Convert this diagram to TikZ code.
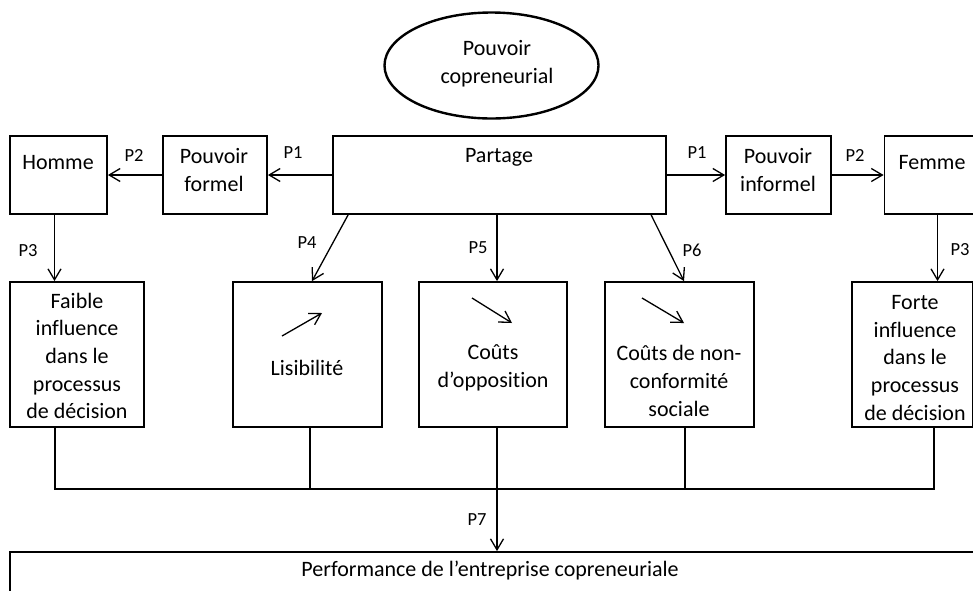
\documentclass[tikz,border=0pt]{standalone}
\usepackage{fontspec}
\setmainfont{Carlito}[Ligatures=NoCommon]
\usetikzlibrary{arrows.meta,shapes.geometric,calc}
\begin{document}
\begin{tikzpicture}[x=1pt,y=-1pt,
  box/.style={draw, line width=1.8pt, inner sep=0pt},
  txt/.style={inner sep=0pt, align=center, font=\fontsize{22}{27.7}\selectfont},
  lbl/.style={inner sep=0pt, font=\fontsize{18.5}{22}\selectfont},
  ln/.style={line width=1.3pt},
  arr/.style={line width=1.3pt, -{Straight Barb[length=11pt,width=13pt,line width=1.3pt]}}]
\useasboundingbox (0,0) rectangle (973,590);
\clip (0,0) rectangle (973,590);
\fill[white] (0,0) rectangle (973,590);

% ellipse
\node[ellipse, draw, line width=2.4pt, minimum width=214pt, minimum height=106pt, inner sep=0pt] (pc) at (491.5,65.5) {};
\node[txt] (pct) at (497,64) {Pouvoir\\copreneurial};

% top row boxes
\node[box, minimum width=97pt, minimum height=78pt] (homme) at (58.5,175) {};
\node[box, minimum width=104pt, minimum height=78pt] (pformel) at (215,175) {};
\node[box, minimum width=333pt, minimum height=78pt] (partage) at (499.5,175) {};
\node[box, minimum width=105pt, minimum height=78pt] (pinformel) at (778.5,175) {};
\node[box, minimum width=90pt, minimum height=78pt] (femme) at (929.5,175) {};

\node[txt] (hommet) at (58,163) {Homme};
\node[txt] (pformelt) at (214,170) {Pouvoir\\formel};
\node[txt] (partaget) at (499,157) {Partage};
\node[txt] (pinformelt) at (778,170) {Pouvoir\\informel};
\node[txt] (femmet) at (932,163) {Femme};

% middle row boxes
\node[box, minimum width=134pt, minimum height=145pt] (faible) at (77,354.5) {};
\node[box, minimum width=149pt, minimum height=145pt] (lisib) at (307.5,354.5) {};
\node[box, minimum width=148pt, minimum height=145pt] (couts) at (493,354.5) {};
\node[box, minimum width=149pt, minimum height=145pt] (nonconf) at (679.5,354.5) {};
\node[box, minimum width=121pt, minimum height=145pt] (forte) at (912.5,354.5) {};

\node[txt] (faiblet) at (77,356) {Faible\\influence\\dans le\\processus\\de décision};
\node[txt] (lisibt) at (307,368) {Lisibilité};
\node[txt] (coutst) at (493,368) {Coûts\\d’opposition};
\node[txt] (nonconft) at (679,381) {Coûts de non-\\conformité\\sociale};
\node[txt] (fortet) at (915,358) {Forte\\influence\\dans le\\processus\\de décision};

% bottom box
\node[box, minimum width=990pt, minimum height=80pt] (perf) at (505,592) {};
\node[txt] (perft) at (490,571) {Performance de l’entreprise copreneuriale};

% junction coordinates
\coordinate (jL) at (55,489);
\coordinate (j1) at (310,489);
\coordinate (jc) at (497,489);
\coordinate (j3) at (685,489);
\coordinate (jR) at (934,489);
\coordinate (aL) at (54.5,250);
\coordinate (aR) at (937.5,250);

% top arrows
\draw[arr] (partage.west) -- (pformel.east);
\draw[arr] (pformel.west) -- (homme.east);
\draw[arr] (partage.east) -- (pinformel.west);
\draw[arr] (pinformel.east) -- (femme.west);
\draw[arr] (homme.south -| aL) -- (faible.north -| aL);
\draw[arr] (femme.south -| aR) -- (forte.north -| aR);

% partage to middle
\draw[arr] ([xshift=16pt]partage.south west) -- ([xshift=4.5pt]lisib.north);
\draw[arr] (partage.south -| jc) -- (couts.north -| jc);
\draw[arr] ([xshift=319pt]partage.south west) -- ([xshift=4.5pt]nonconf.north);

% small trend arrows
\draw[arr] ($(lisib.center)+(-25.5,-18.5)$) -- ($(lisib.center)+(14.5,-41.5)$);
\draw[arr] ($(couts.center)+(-21,-56.5)$) -- ($(couts.center)+(19,-31.5)$);
\draw[arr] ($(nonconf.center)+(-37.5,-56.5)$) -- ($(nonconf.center)+(4.5,-31.5)$);

% bottom connectors
\draw[ln] (faible.south -| jL) -- (jL) -- (jR) -- (forte.south -| jR);
\draw[ln] (lisib.south -| j1) -- (j1);
\draw[ln] (nonconf.south -| j3) -- (j3);
\draw[arr] (couts.south -| jc) -- (perf.north -| jc);

% labels
\node[lbl] (p2a) at (134,155) {P2};
\node[lbl] (p1a) at (293,153) {P1};
\node[lbl] (p1b) at (697,153) {P1};
\node[lbl] (p2b) at (855,155) {P2};
\node[lbl] (p3a) at (28,251) {P3};
\node[lbl] (p3b) at (960,250) {P3};
\node[lbl] (p4) at (307,243) {P4};
\node[lbl] (p5) at (478,248) {P5};
\node[lbl] (p6) at (692,250) {P6};
\node[lbl] (p7) at (477,520) {P7};
\end{tikzpicture}
\end{document}
